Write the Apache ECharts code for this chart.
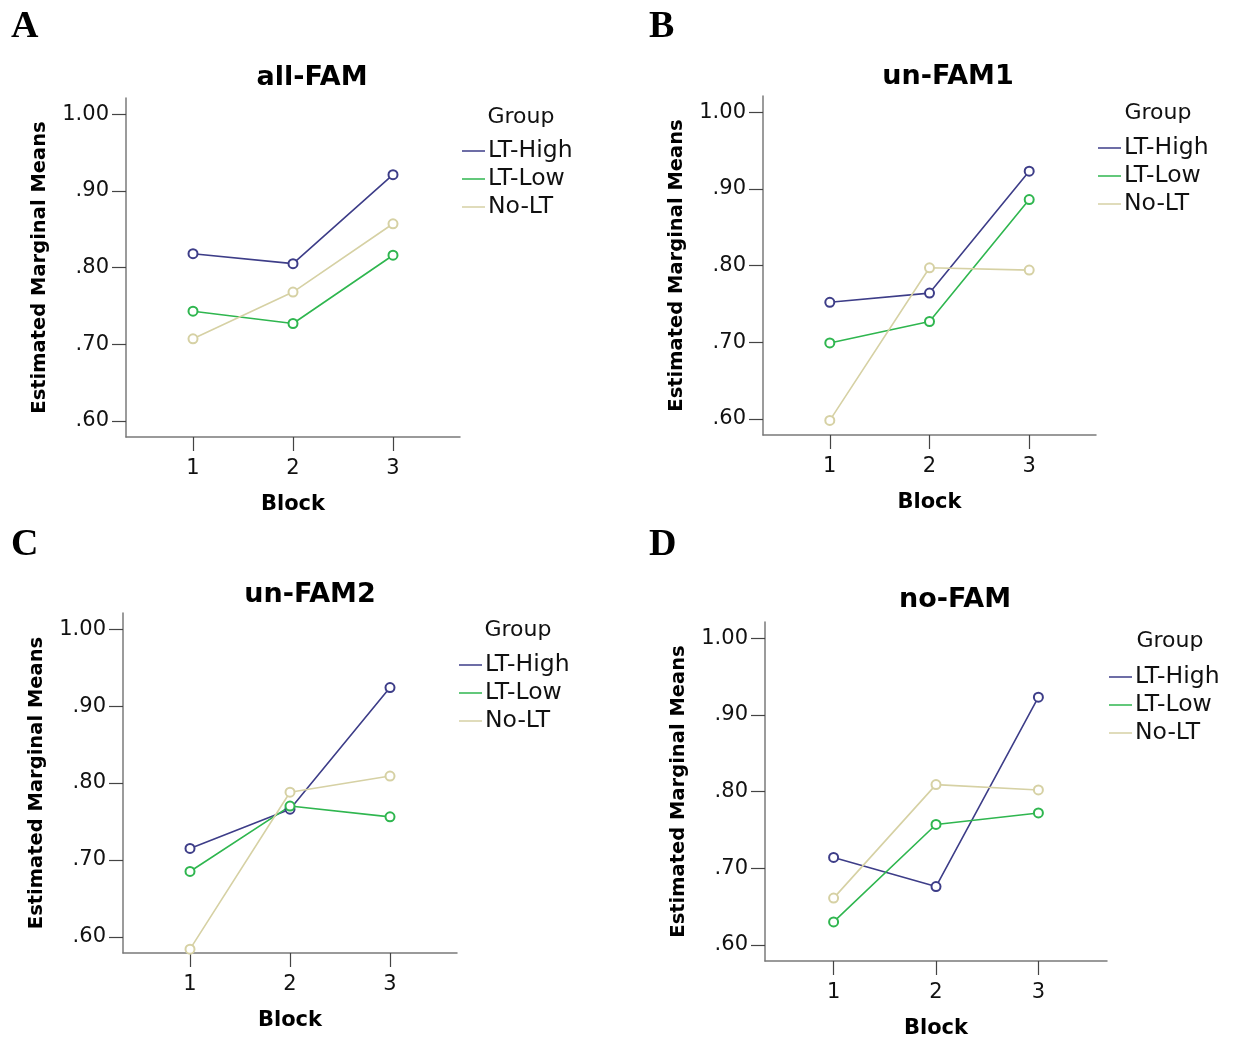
<!DOCTYPE html>
<html>
<head>
<meta charset="utf-8">
<script src="https://cdn.jsdelivr.net/npm/echarts@6/dist/echarts.min.js"></script>
<style>
  html, body { margin: 0; padding: 0; background: #fff; }
  #chart { width: 1235px; height: 1040px; }
</style>
</head>
<body>
<div id="chart"></div>
<script>
  // data
  var blocks = [1, 2, 3];
  var groups = ['LT-High', 'LT-Low', 'No-LT'];
  var yTicks = [0.6, 0.7, 0.8, 0.9, 1.0];

  var allFamHigh = [0.818, 0.805, 0.921];
  var allFamLow = [0.743, 0.727, 0.816];
  var allFamNo = [0.707, 0.768, 0.857];

  var unFam1High = [0.752, 0.764, 0.923];
  var unFam1Low = [0.699, 0.727, 0.886];
  var unFam1No = [0.598, 0.797, 0.794];

  var unFam2High = [0.715, 0.766, 0.924];
  var unFam2Low = [0.685, 0.770, 0.756];
  var unFam2No = [0.584, 0.788, 0.809];

  var noFamHigh = [0.714, 0.676, 0.923];
  var noFamLow = [0.630, 0.757, 0.772];
  var noFamNo = [0.661, 0.809, 0.802];

  var colors = ['#3d3d88', '#2fb64f', '#d6d1a4'];
  var font = 'DejaVu Sans';

  var panels = [
    { title: 'all-FAM', letter: 'A', values: [allFamHigh, allFamLow, allFamNo],
      grid: { left: 126, top: 98, width: 334, height: 339 },
      titleAt: [312, 78], letterAt: [11, 27], legendAt: [462, 139], groupAt: [521, 117] },
    { title: 'un-FAM1', letter: 'B', values: [unFam1High, unFam1Low, unFam1No],
      grid: { left: 763, top: 96, width: 333, height: 339 },
      titleAt: [948, 77], letterAt: [649, 27], legendAt: [1098, 136], groupAt: [1158, 113] },
    { title: 'un-FAM2', letter: 'C', values: [unFam2High, unFam2Low, unFam2No],
      grid: { left: 123, top: 613, width: 334, height: 340 },
      titleAt: [310, 595], letterAt: [11, 545], legendAt: [459, 653], groupAt: [518, 630] },
    { title: 'no-FAM', letter: 'D', values: [noFamHigh, noFamLow, noFamNo],
      grid: { left: 765, top: 622, width: 342, height: 342 },
      titleAt: [955, 600], letterAt: [649, 545], legendAt: [1109, 665], groupAt: [1170, 641] }
  ];

  var grids = [], xAxes = [], yAxes = [], series = [], legends = [], texts = [];

  panels.forEach(function (p, i) {
    grids.push(p.grid);
    xAxes.push({
      type: 'value', gridIndex: i, min: 0.33, max: 3.67,
      name: 'Block', nameLocation: 'middle', nameGap: 57,
      nameTextStyle: { fontFamily: font, fontWeight: 'bold', fontSize: 21, color: '#000' },
      axisLine: { lineStyle: { color: '#7a7a7a', width: 1.5 } },
      axisTick: { customValues: blocks, length: 14, lineStyle: { color: '#444', width: 1.2 } },
      axisLabel: { customValues: blocks, margin: 21, fontFamily: font, fontSize: 21, color: '#111' },
      splitLine: { show: false }
    });
    yAxes.push({
      type: 'value', gridIndex: i, min: 0.579, max: 1.021,
      name: 'Estimated Marginal Means', nameLocation: 'middle', nameGap: 76,
      nameTextStyle: { fontFamily: font, fontWeight: 'bold', fontSize: 19.5, color: '#000' },
      axisLine: { show: true, lineStyle: { color: '#7a7a7a', width: 1.5 } },
      axisTick: { show: true, customValues: yTicks, length: 14, lineStyle: { color: '#444', width: 1.2 } },
      axisLabel: {
        customValues: yTicks, margin: 17, fontFamily: font, fontSize: 21, color: '#111',
        formatter: function (v) { return v >= 1 ? v.toFixed(2) : v.toFixed(2).replace(/^0/, ''); }
      },
      splitLine: { show: false }
    });
    groups.forEach(function (g, k) {
      series.push({
        name: g, type: 'line', xAxisIndex: i, yAxisIndex: i,
        data: blocks.map(function (b, j) { return [b, p.values[k][j]]; }),
        symbol: 'emptyCircle', symbolSize: 9,
        lineStyle: { color: colors[k], width: 1.6 },
        itemStyle: { color: colors[k], borderWidth: 1.3 },
        animation: false
      });
    });
    legends.push({
      orient: 'vertical', left: p.legendAt[0], top: p.legendAt[1], padding: 0,
      data: groups, icon: 'rect', itemWidth: 23, itemHeight: 1.5, itemGap: 4,
      textStyle: { fontFamily: font, fontSize: 23.5, lineHeight: 23.5, color: '#111', padding: [0, 0, 0, -2] },
      selectedMode: false
    });
    texts.push({
      type: 'text', x: p.titleAt[0], y: p.titleAt[1],
      style: { text: p.title, fontFamily: font, fontWeight: 'bold', fontSize: 27, fill: '#000',
        align: 'center', verticalAlign: 'middle' }
    });
    texts.push({
      type: 'text', x: p.letterAt[0], y: p.letterAt[1],
      style: { text: p.letter, fontFamily: 'Liberation Serif', fontWeight: 'bold', fontSize: 38, fill: '#000',
        align: 'left', verticalAlign: 'middle' }
    });
    texts.push({
      type: 'text', x: p.groupAt[0], y: p.groupAt[1],
      style: { text: 'Group', fontFamily: font, fontSize: 22, fill: '#111',
        align: 'center', verticalAlign: 'middle' }
    });
  });

  var chart = echarts.init(document.getElementById('chart'));
  chart.setOption({
    backgroundColor: '#fff',
    animation: false,
    grid: grids,
    xAxis: xAxes,
    yAxis: yAxes,
    legend: legends,
    series: series,
    graphic: texts
  });
</script>
</body>
</html>
